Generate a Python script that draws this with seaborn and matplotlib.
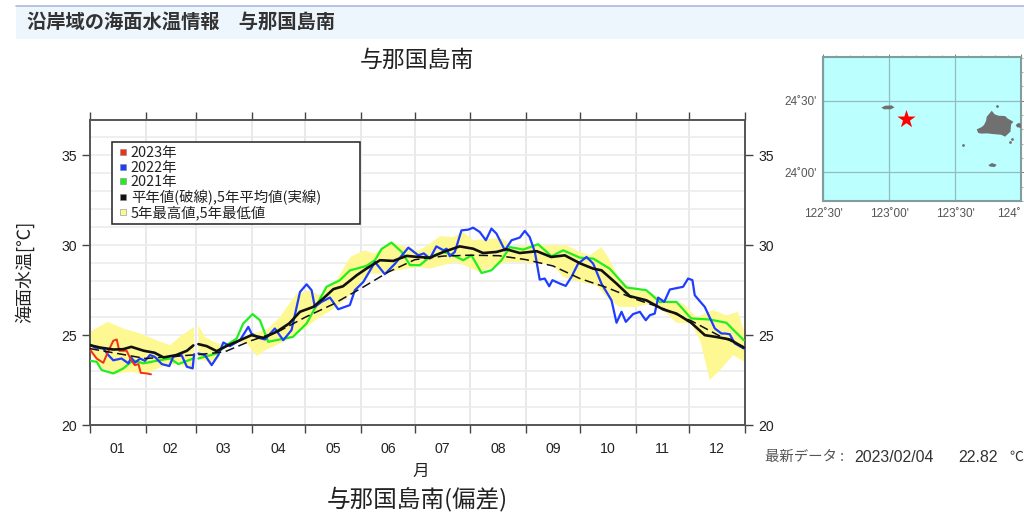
import numpy as np
import pandas as pd
import matplotlib.pyplot as plt
from matplotlib.lines import Line2D
from matplotlib.patches import Rectangle
import seaborn as sns

months = ['01', '02', '03', '04', '05', '06', '07', '08', '09', '10', '11', '12']
month_edges = [0, 31, 59, 90, 120, 151, 181, 212, 243, 273, 304, 334, 365]

red_day = [0, 3.7, 7.4, 10, 13, 14.9, 16.3, 20.4, 23, 25, 27, 28.3, 31.6, 34]
red_val = [24.2, 23.7, 23.46, 24.07, 24.69, 24.76, 24.13, 24.13, 23.6, 23.33, 23.39, 22.9, 22.87, 22.82]

blue_day = [0, 2.8, 7.4, 10.2, 13, 17.6, 21.4, 23, 25, 27.9, 30.6, 33.4, 36, 40, 44.2, 46.4, 51, 54, 57.2, 58,
            60.4, 64, 67.8, 71.5, 74.3, 78, 83.6, 88.2, 90, 93.8, 97.5, 103, 107.7, 112.3, 117, 120.7, 123.5,
            125.3, 129, 133.7, 138.3, 144.8, 147.6, 152.3, 158.8, 164.3, 170, 177.4, 183, 186, 189.4, 193, 197,
            198.7, 200.5, 203.3, 207, 210.7, 213.5, 217.2, 220.6, 223.7, 226.5, 231.2, 234.9, 239.5, 242.3, 245,
            247.9, 250.6, 253.4, 255.9, 257.7, 261.8, 265.1, 268.3, 272, 276.7, 280.4, 285, 290.6, 293.4, 296.2,
            298.6, 302.6, 306.4, 309.7, 312, 314.7, 316.6, 320, 323.1, 330.5, 333.3, 335.7, 337, 342.6, 348.2,
            351.9, 354, 356.5, 359.3, 364.3]
blue_val = [24.48, 24.31, 24.26, 23.89, 23.6, 23.7, 23.43, 23.76, 23.46, 23.7, 23.57, 23.89, 23.8, 23.39, 23.28,
            23.8, 23.89, 23.24, 23.15, 23.94,
            23.98, 23.89, 23.33, 23.89, 24.59, 24.39, 24.72, 25.46, 25.09, 24.85, 24.76, 25.37, 24.72, 25.28,
            27.4, 27.83, 27.5, 26.57, 26.85, 27.09, 26.44, 26.67, 27.5, 27.96, 29.07, 28.39, 28.98, 29.87, 29.44,
            29.55, 29.26, 29.94, 29.72, 29.81, 29.39, 29.63, 30.83, 30.87, 30.98, 30.74, 30.28, 30.93, 30.65,
            29.72, 30.28, 30.43, 30.8, 30.46, 29.63, 28.09, 28.15, 27.72, 28.06, 27.87, 27.74, 28.24, 28.98,
            29.35, 28.98, 27.87, 26.94, 25.69, 26.3, 25.74, 26.17, 26.3, 25.83, 26.11, 26.2, 27.09, 26.85, 27.54,
            27.69, 28.15, 28.06, 27.22, 26.57, 25.37, 25.09, 25.09, 25.05, 24.54, 24.26]

green_day = [0, 3.7, 6.5, 13, 18.6, 24, 29.7, 37, 44.6, 49.2, 57.6,
             60.4, 70.6, 76, 81.7, 85.4, 90.6, 94.7, 99.3, 105.8, 113, 120.7, 126.3, 131.8, 139.3, 144.8, 154,
             158.8, 162.5, 168, 173.7, 178.3, 183.8, 189.4, 197, 202.4, 208, 212.6, 218.2, 223.7, 229.3, 234,
             241.4, 249.7, 257.2, 263.7, 273, 280.4, 289.6, 299, 310, 317.5, 326.8, 335, 345.4, 354.6, 364.3]
green_val = [23.57, 23.52, 23.06, 22.87, 23.15, 23.6, 23.43, 23.57, 23.7, 23.39, 23.7,
             23.7, 23.98, 24.44, 24.81, 25.65, 26.17, 25.83, 24.63, 24.76, 24.9, 25.65, 26.67, 27.69, 28.06, 28.6,
             28.85, 29.17, 29.8, 30.15, 29.63, 28.9, 28.89, 29.35, 29.63, 29.44, 29.17, 29.44, 28.46, 28.61, 29.17,
             29.9, 29.76, 30.06, 29.39, 29.72, 29.31, 29.26, 28.7, 27.65, 27.5, 26.85, 26.85, 25.93, 25.87, 25.69,
             24.72]

mean_day = [0, 5.6, 13, 18.6, 23, 30, 36, 41, 48, 54, 57.6,
            60.4, 65, 70.6, 76, 83.6, 90, 96.6, 104, 111, 117, 124.4, 130, 135.6, 141, 148.6, 154, 161.6, 169,
            176.4, 183, 189.4, 197, 206, 213.5, 219, 226.5, 232, 239.5, 249, 257, 264.6, 273, 280.4, 285, 293.4,
            300.8, 310, 319.4, 326.8, 335, 342.6, 349, 356.5, 364.3]
mean_val = [24.44, 24.31, 24.2, 24.22, 24.35, 24.13, 24.02, 23.76, 23.89, 24.13, 24.43,
            24.5, 24.39, 24.11, 24.39, 24.72, 25, 24.85, 25.19, 25.65, 26.3, 26.57, 27.04, 27.56, 27.72, 28.33,
            28.7, 29.17, 29.13, 29.41, 29.35, 29.31, 29.63, 29.94, 29.81, 29.57, 29.63, 29.78, 29.57, 29.67, 29.35,
            29.44, 29, 28.7, 28.61, 27.87, 27.17, 26.94, 26.43, 26.2, 25.69, 25, 24.9, 24.76, 24.31]

normal_day = [0, 31, 57.6, 60.4, 75, 90, 105, 120, 135, 151, 166, 181, 197, 212, 228, 243, 258, 273, 288, 304, 319, 335, 350, 364.3]
normal_val = [24.25, 23.7, 23.9, 23.92, 24.07, 24.7, 25.2, 26.0, 26.7, 27.6, 28.5, 29.2, 29.4, 29.45, 29.42, 29.2, 28.85, 28.15, 27.65, 27.0, 26.5, 25.8, 25.0, 24.35]

upper_day = [0, 10, 18.6, 28, 37, 44.6, 50, 58,
             60.4, 64, 70.6, 76, 83.6, 90, 98.4, 105.8, 115, 122.6, 128, 137.4, 145, 153, 158.8, 167, 176.4, 183,
             189.4, 195, 202.4, 208, 213.5, 222.8, 230, 235, 245, 258, 265.5, 273, 278.5, 285, 288.7, 295, 302.7,
             312, 319.4, 330.5, 338, 347.2, 354.6, 361, 365]
upper_val = [25.19, 25.74, 25.37, 25.09, 24.72, 24.44, 24.9, 25.46,
             25.56, 24.9, 24.54, 24.54, 24.81, 25.09, 25.28, 26, 27.3, 27.5, 27.2, 28.06, 29.35, 29.72, 29.54, 30.19,
             29.9, 29.7, 30.09, 30.5, 30.46, 30.74, 30.28, 30.37, 30.37, 29.9, 30, 30, 30, 29.63, 29.44, 29.9, 29.35,
             28.15, 27.5, 27.4, 26.94, 26.76, 26, 26.4, 26.1, 26.3, 25.1]
lower_day = [0, 7.4, 14.9, 22, 31.6, 40, 48, 58,
             60.4, 67.8, 74.3, 81.7, 87.3, 93, 97.5, 104, 113, 120.7, 128, 137.4, 146.7, 156, 163.4, 171, 183,
             189.4, 197, 204, 217, 232, 239.5, 249, 258, 263.6, 273, 282.2, 288, 295, 304.5, 312, 319.4, 326.8,
             335, 340, 345.4, 351, 358.4, 365]
lower_val = [24, 23.15, 22.87, 22.96, 22.87, 23.24, 23.43, 23.06,
             23.7, 23.43, 24.35, 24.63, 24.54, 23.83, 24.17, 24.44, 24.9, 25.46, 26, 26.57, 27.4, 28.43, 28.43, 28.6,
             28.8, 28.7, 28.9, 29.07, 28.52, 29.07, 29.07, 29, 28.9, 28.24, 27.96, 27.78, 27.13, 26.57, 26.57, 26.76,
             26.39, 25.69, 25.65, 24.72, 22.5, 23.05, 23.89, 23.5]

# islands for the small map (lon, lat)
main_lon = [123.664, 123.70, 123.719, 123.735, 123.74, 123.778, 123.80, 123.83, 123.879, 123.90, 123.942, 123.925,
            123.92, 123.879, 123.85, 123.79, 123.74, 123.70, 123.675]
main_lat = [24.30, 24.315, 24.33, 24.36, 24.388, 24.43, 24.405, 24.395, 24.393, 24.375, 24.353, 24.335,
            24.284, 24.249, 24.262, 24.267, 24.272, 24.27, 24.275]
yonaguni_lon = [122.94, 122.97, 123.02, 123.04, 123.01, 122.96]
yonaguni_lat = [24.452, 24.465, 24.467, 24.452, 24.44, 24.44]
hateruma_lon = [123.752, 123.78, 123.816, 123.80, 123.765]
hateruma_lat = [24.051, 24.065, 24.053, 24.037, 24.04]
ishigaki_lon = [123.96, 123.98, 124.0, 124.0, 123.97]
ishigaki_lat = [24.33, 24.345, 24.34, 24.31, 24.315]
islet_lon = [123.563, 123.82, 123.93, 123.915]
islet_lat = [24.19, 24.465, 24.232, 24.215]
point_lon = [123.125]
point_lat = [24.372]

sns.set_theme(style='white')
jp = ['Noto Sans CJK JP', 'DejaVu Sans']
plt.rcParams['font.family'] = ['Liberation Sans', 'Noto Sans CJK JP', 'DejaVu Sans']

W, H = 1024, 525
fig = plt.figure(figsize=(W / 100, H / 100), dpi=100, facecolor='white')

# page header
fig.patches.append(Rectangle((16 / W, 1 - 39 / H), 1 - 16 / W, 33 / H, transform=fig.transFigure,
                             facecolor='#eef6fd', edgecolor='none'))
fig.add_artist(Line2D([16 / W, 1], [1 - 6 / H, 1 - 6 / H], color='#a9bbdc', lw=1.2))
fig.text(27 / W, 1 - 22 / H, '沿岸域の海面水温情報　与那国島南', family=jp, fontsize=13.9, fontweight='bold',
         color='#333333', va='center')
fig.text(417 / W, 1 - 60 / H, '与那国島南', family=jp, fontsize=16.5, color='#222222', ha='center', va='center')
fig.text(417 / W, 1 - 499 / H, '与那国島南(偏差)', family=jp, fontsize=17, color='#222222', ha='center', va='center')

ax = fig.add_axes([90 / W, 1 - 425 / H, 655 / W, 305.5 / H])


def draw_line(day, val, color, lw, **kw):
    df = pd.DataFrame({'day': day, 'val': val})
    df['part'] = (df['day'] > 59).astype(int)
    for _, part in df.groupby('part'):
        sns.lineplot(data=part, x='day', y='val', color=color, linewidth=lw, ax=ax, estimator=None,
                     sort=False, zorder=kw.get('zorder', 4), **{k: v for k, v in kw.items() if k != 'zorder'})


up = pd.DataFrame({'day': upper_day, 'val': upper_val})
lo = pd.DataFrame({'day': lower_day, 'val': lower_val})
for left in [True, False]:
    u = up[up['day'] < 59] if left else up[up['day'] > 59]
    l = lo[lo['day'] < 59] if left else lo[lo['day'] > 59]
    ax.fill(np.r_[u['day'], l['day'][::-1]], np.r_[u['val'], l['val'][::-1]], color='#fdf892', lw=0, zorder=1)

draw_line(green_day, green_val, '#1fee1f', 1.6)
draw_line(blue_day, blue_val, '#1f3dff', 1.6, zorder=5)
draw_line(red_day, red_val, '#f0301a', 1.4, zorder=6)
draw_line(normal_day, normal_val, '#111111', 1.1, linestyle=(0, (6, 3)), zorder=6)
draw_line(mean_day, mean_val, '#111111', 1.9, zorder=6)

ax.set_xlim(0, 365)
ax.set_ylim(20, 37)
ax.set_xlabel('')
ax.set_ylabel('')
ax.set_xticks(month_edges)
ax.set_xticklabels([])
ax.set_xticks([(a + b) / 2 for a, b in zip(month_edges[:-1], month_edges[1:])], minor=True)
ax.set_xticklabels(months, minor=True, fontsize=10.2, color='#222222')
ax.set_yticks([20, 25, 30, 35])
ax.set_yticks(range(20, 38), minor=True)
ax.grid(axis='x', which='major', color='#e3e3e3', lw=1.1, zorder=0)
ax.grid(axis='y', which='minor', color='#ebebeb', lw=1.1, zorder=0)
ax.grid(axis='y', which='major', color='#ebebeb', lw=1.1, zorder=0)
ax.set_axisbelow(True)
ax.tick_params(axis='x', which='major', direction='out', length=5.5, width=1, color='#444444',
               top=True, bottom=True)
ax.tick_params(axis='x', which='minor', length=0, pad=12)
ax.tick_params(axis='y', which='major', direction='out', length=5.5, width=1, color='#444444',
               left=True, right=True, labelleft=True, labelright=True, labelsize=10.2, labelcolor='#222222', pad=4)
ax.tick_params(axis='y', which='minor', length=0)
for s in ax.spines.values():
    s.set_color('#555555')
    s.set_linewidth(1.4)

fig.text(421 / W, 1 - 471 / H, '月', family=jp, fontsize=12, color='#222222', ha='center', va='center')
fig.text(25 / W, 1 - 272 / H, '海面水温[℃]', family=jp, fontsize=13, color='#222222', rotation=90,
         ha='center', va='center')

handles = [Line2D([], [], ls='', marker='s', ms=4.8, mec='#888888', mew=0.4, mfc=c)
           for c in ['#f0301a', '#1f3dff', '#1fee1f', '#111111', '#fdf892']]
labels = ['2023年', '2022年', '2021年', '平年値(破線),5年平均値(実線)', '5年最高値,5年最低値']
leg = ax.legend(handles, labels, loc='upper left',
                bbox_to_anchor=((112 - 90) / 655, 1 - (142 - 119.5) / 305.5, 248 / 655, 0), mode='expand',
                prop={'family': jp, 'size': 10.4}, frameon=True, fancybox=False, framealpha=1, edgecolor='#222222',
                borderaxespad=0, borderpad=0.3, labelspacing=0.03, handletextpad=0.1, handlelength=0.9)
leg.get_frame().set_linewidth(1.1)
leg.set_zorder(10)
for t in leg.get_texts():
    t.set_color('#222222')

# latest value line, the reference runs it up to the right edge
fig.text(765 / W, 1 - 457 / H, '最新データ :', family=jp, fontsize=10.4, color='#555555', va='center')
fig.text(854 / W, 1 - 457 / H, '2023/02/04', fontsize=11.4, color='#333333', va='center')
fig.text(958 / W, 1 - 457 / H, '22.82', fontsize=11.4, color='#333333', va='center')
fig.text(1023 / W, 1 - 457 / H, '℃', family=jp, fontsize=10, color='#333333', va='center', ha='right')

# location map
mp = fig.add_axes([823.3 / W, 1 - 201 / H, 197.7 / W, 144.3 / H], facecolor='#bbffff')
for lon, lat in [(main_lon, main_lat), (yonaguni_lon, yonaguni_lat), (hateruma_lon, hateruma_lat),
                 (ishigaki_lon, ishigaki_lat)]:
    mp.fill(lon, lat, color='#707070', lw=0, zorder=3)
sns.scatterplot(x=islet_lon, y=islet_lat, color='#707070', s=4, linewidth=0, ax=mp, zorder=3)
sns.scatterplot(x=point_lon, y=point_lat, color='#ff0000', marker='*', s=190, linewidth=0, ax=mp, zorder=4)
mp.set_xlim(122.5, 124.0)
mp.set_ylim(23.8, 24.807)
mp.set_xticks([122.5, 123.0, 123.5, 124.0])
mp.set_xticklabels(["122˚30'", "123˚00'", "123˚30'", "124˚"], fontsize=8.5, color='#555555')
mp.set_yticks([24.0, 24.5])
mp.set_yticklabels(["24˚00'", "24˚30'"], fontsize=8.5, color='#555555')
mp.set_xticks(np.arange(122.5, 124.01, 0.1), minor=True)
mp.set_yticks(np.arange(23.8, 24.81, 0.1), minor=True)
mp.grid(which='major', color='#94bcbc', lw=0.9, zorder=1)
mp.tick_params(axis='both', which='major', length=2, width=0.6, color='#666666', pad=3, top=True, right=True)
mp.tick_params(axis='both', which='minor', length=1.2, width=0.5, color='#888888', top=True, right=True)
for s in mp.spines.values():
    s.set_color('#7f9f9f')
    s.set_linewidth(1.5)
mp.get_xticklabels()[-1].set_ha('right')

fig.savefig('out.png', dpi=100)
